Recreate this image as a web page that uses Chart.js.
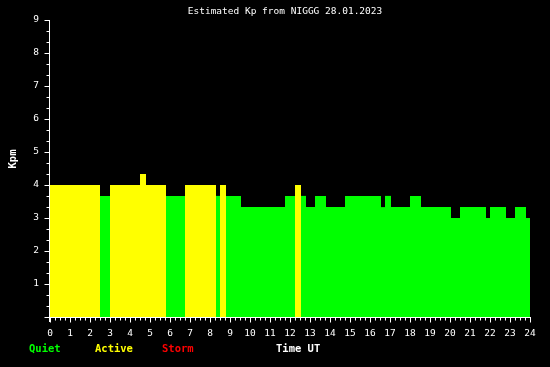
<!DOCTYPE html>
<html><head><meta charset="utf-8">
<script src="https://cdn.jsdelivr.net/npm/chart.js@4.4.0/dist/chart.umd.min.js"></script>
<style>html,body{margin:0;padding:0;background:#000;}#wrap{width:550px;height:367px;position:relative;background:#000}</style>
</head><body><div id="wrap"><canvas id="c" width="550" height="367"></canvas></div>
<script>
const titleText = 'Estimated Kp from NIGGG 28.01.2023';
const yAxisLabel = 'Kpm';
const xAxisLabel = 'Time UT';
const legendLabels = ['Quiet', 'Active', 'Storm'];
const xTickValues = [0,1,2,3,4,5,6,7,8,9,10,11,12,13,14,15,16,17,18,19,20,21,22,23,24];
const yTickValues = [1,2,3,4,5,6,7,8,9];
// time segments (hours UT) and Kp value of each
const segStart = [0,2.5,3.0,4.5,4.8,5.8,6.75,8.3,8.5,8.8,9.55,11.75,12.25,12.55,12.8,13.25,13.8,14.75,16.55,16.75,17.05,18.0,18.55,20.05,20.5,21.8,22.0,22.8,23.25,23.8];
const segEnd   = [2.5,3.0,4.5,4.8,5.8,6.75,8.3,8.5,8.8,9.55,11.75,12.25,12.55,12.8,13.25,13.8,14.75,16.55,16.75,17.05,18.0,18.55,20.05,20.5,21.8,22.0,22.8,23.25,23.8,24];
const kpValues = [4,3.67,4,4.33,4,3.67,4,3.67,4,3.67,3.33,3.67,4,3.67,3.33,3.67,3.33,3.67,3.33,3.67,3.33,3.67,3.33,3,3.33,3,3.33,3,3.33,3];

const GREEN = '#00ff00', YELLOW = '#ffff00', RED = '#ff0000', WHITE = '#ffffff';
const levelColors = [GREEN, YELLOW, RED];
function levelOf(v){ return v >= 5 ? 2 : (v >= 4 ? 1 : 0); }

const levelData = [[], [], []];
for (let i = 0; i < kpValues.length; i++) {
  const d = levelData[levelOf(kpValues[i])];
  d.push({x: segStart[i], y: kpValues[i]}, {x: segEnd[i], y: kpValues[i]}, {x: segEnd[i], y: null});
}
const datasets = levelData.map((d, i) => ({
  label: legendLabels[i], data: d, backgroundColor: levelColors[i], borderColor: levelColors[i],
  borderWidth: 0, pointRadius: 0, fill: 'origin', spanGaps: false, tension: 0
}));

const MONO = '"DejaVu Sans Mono", "Liberation Mono", monospace';

const decor = {
  id: 'decor',
  afterDatasetsDraw(chart) {
    const ctx = chart.ctx, x = chart.scales.x, y = chart.scales.y;
    const a = chart.chartArea;
    ctx.save();
    ctx.strokeStyle = WHITE; ctx.lineWidth = 1;
    ctx.beginPath();
    // y axis line
    const x0 = Math.round(x.getPixelForValue(0)) - 0.5;
    ctx.moveTo(x0, y.getPixelForValue(9)); ctx.lineTo(x0, a.bottom + 5);
    // y ticks: major at integers, minor at thirds
    for (let k = 0; k <= 27; k++) {
      const py = Math.round(y.getPixelForValue(k / 3)) + 0.5;
      const len = (k % 3 === 0) ? 5 : 3;
      ctx.moveTo(x0 - len, py); ctx.lineTo(x0, py);
    }
    // x axis line
    const yb = Math.round(a.bottom) + 0.5;
    ctx.moveTo(x0, yb); ctx.lineTo(x.getPixelForValue(24) + 1, yb);
    for (let k = 0; k <= 96; k++) {
      const px = Math.round(x.getPixelForValue(k / 4)) + 0.5;
      const len = (k % 4 === 0) ? 5 : 3;
      ctx.moveTo(px, yb); ctx.lineTo(px, yb + len);
    }
    ctx.stroke();

    // title
    ctx.fillStyle = WHITE;
    ctx.font = '9.5px ' + MONO;
    ctx.textAlign = 'center'; ctx.textBaseline = 'middle';
    ctx.fillText(titleText, 285, 12);

    // y axis label (rotated)
    ctx.font = 'bold 10.5px ' + MONO;
    ctx.save();
    ctx.translate(13, 159); ctx.rotate(-Math.PI / 2);
    ctx.fillText(yAxisLabel, 0, 0);
    ctx.restore();

    // legend row
    ctx.textAlign = 'left';
    const legX = [29, 95, 162];
    for (let i = 0; i < legendLabels.length; i++) {
      ctx.fillStyle = levelColors[i];
      ctx.fillText(legendLabels[i], legX[i], 349);
    }
    ctx.fillStyle = WHITE;
    ctx.fillText(xAxisLabel, 276, 349);
    ctx.restore();
  }
};

new Chart(document.getElementById('c'), {
  type: 'line',
  data: { datasets },
  plugins: [decor],
  options: {
    responsive: false, animation: false, devicePixelRatio: 1,
    layout: { padding: { top: 20, right: 20, left: 0, bottom: 0 } },
    plugins: { legend: { display: false }, title: { display: false }, tooltip: { enabled: false } },
    scales: {
      x: {
        type: 'linear', min: 0, max: 24,
        afterFit(s) { s.height = 50; },
        afterBuildTicks(s) { s.ticks = xTickValues.map(v => ({value: v})); },
        grid: { display: false, drawTicks: false }, border: { display: false },
        ticks: { color: WHITE, font: { family: MONO, size: 9.5 }, padding: 11, maxRotation: 0, autoSkip: false }
      },
      y: {
        type: 'linear', min: 0, max: 9,
        afterFit(s) { s.width = 50; },
        afterBuildTicks(s) { s.ticks = yTickValues.map(v => ({value: v})); },
        grid: { display: false, drawTicks: false }, border: { display: false },
        ticks: { color: WHITE, font: { family: MONO, size: 9.5 }, padding: 11 }
      }
    }
  }
});
</script>
</body></html>
